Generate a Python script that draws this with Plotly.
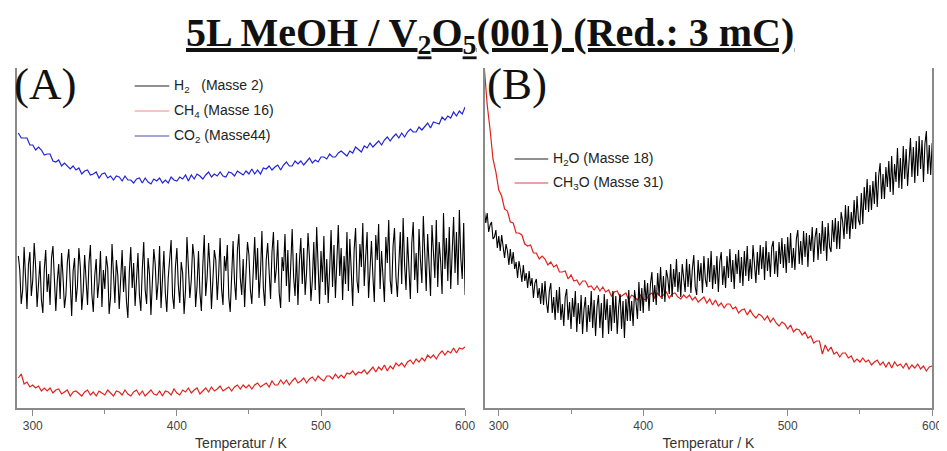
import plotly.graph_objects as go

# Temperature grids (K)
temperature = list(range(290, 601, 2))        # smoother signals
temperature_fine = list(range(290, 601, 1))   # noisy signals

# Panel A (arbitrary intensity units)
co2_masse44 = [
    275,270,270,270,263,263,258,261,258,253,
    254,254,247,246,248,242,245,242,239,242,
    238,240,234,237,238,233,234,236,230,234,
    235,230,232,228,232,231,227,232,228,228,
    225,229,230,225,230,226,224,229,227,230,
    225,228,225,231,228,227,231,229,233,227,
    233,229,234,232,229,233,236,231,234,232,
    236,232,231,236,235,232,237,235,233,237,
    234,239,234,238,234,240,239,242,238,241,
    243,238,243,246,242,242,247,244,247,243,
    247,250,245,248,246,251,251,249,254,251,
    251,255,257,254,252,257,255,261,258,256,
    262,260,265,261,264,267,263,268,271,267,
    271,274,270,275,271,276,279,276,276,281,
    278,282,285,280,286,285,284,291,288,292,
    290,296,292,297,294,301]

ch4_masse16 = [
    30,34,24,26,21,23,20,22,17,20,
    17,20,15,18,19,14,16,18,12,16,
    17,14,12,16,18,13,16,12,17,15,
    13,18,15,12,17,16,13,18,14,12,
    16,18,13,17,12,15,18,14,13,17,
    12,17,16,13,19,15,13,18,16,20,
    15,18,20,14,17,20,16,21,17,19,
    22,17,19,21,17,21,23,19,23,20,
    23,19,23,25,21,23,25,21,27,23,
    23,28,24,28,23,27,30,25,27,30,
    25,29,31,27,32,29,27,32,32,29,
    34,30,33,30,35,34,37,33,36,35,
    38,34,38,41,36,41,38,43,37,42,
    39,45,42,45,41,46,48,44,49,46,
    50,47,53,50,53,49,54,57,53,57,
    55,60,55,60,59,61]

h2_masse2 = [
    152,138,104,118,161,125,99,143,156,112,
    128,165,141,101,120,147,108,95,139,158,
    116,134,103,150,162,121,97,127,144,109,
    155,131,100,113,146,159,124,92,137,150,
    106,122,160,141,98,117,153,129,103,145,
    163,114,96,132,149,110,126,157,101,138,
    119,152,140,94,111,164,127,105,148,133,
    99,125,158,116,142,107,90,136,161,120,
    145,102,128,155,113,97,139,166,118,104,
    150,134,93,121,159,143,108,126,162,100,
    137,157,115,96,130,148,168,112,99,141,
    160,123,105,146,135,94,118,171,139,110,
    128,164,150,101,122,157,115,97,143,173,
    112,131,165,140,99,125,158,148,108,134,
    170,119,103,152,137,163,111,96,144,167,
    126,108,158,174,130,113,149,101,137,166,
    153,118,104,141,171,128,160,110,135,177,
    120,102,148,165,133,109,156,176,125,139,
    168,115,100,151,137,174,122,158,106,145,
    179,131,112,155,103,146,170,124,160,113,
    136,175,150,107,128,166,118,181,140,104,
    157,126,172,113,149,105,138,178,121,163,
    110,145,183,132,160,108,152,124,176,117,
    169,137,102,158,180,127,115,164,141,185,
    122,151,176,110,139,167,132,106,173,148,
    184,119,157,136,106,171,145,188,128,114,
    162,180,131,111,153,176,124,190,143,118,
    171,137,109,165,186,128,155,115,179,148,
    125,192,160,117,174,143,112,183,154,130,
    188,121,166,147,114,195,139,170,127,181,
    119,158,191,135,176,123,198,150,129,185,
    113]

# Panel B
h2o_masse18 = [
    198,185,195,176,183,186,169,171,178,160,
    172,157,173,158,150,164,157,143,159,144,
    156,139,146,130,147,138,126,143,127,135,
    120,137,122,130,110,125,129,110,120,104,
    125,103,127,106,95,117,125,95,111,88,
    118,95,121,88,104,82,111,119,88,106,
    79,110,91,117,76,105,84,113,74,99,
    111,76,103,86,117,80,108,72,101,113,
    80,105,70,114,88,109,74,103,77,117,
    85,112,74,101,114,79,107,70,109,87,
    118,87,107,82,118,106,89,126,97,120,
    95,128,106,125,97,124,136,106,123,103,
    135,112,141,109,132,106,138,130,114,144,
    111,139,121,149,116,136,111,144,132,116,
    149,121,144,115,139,153,121,113,148,127,
    145,115,152,129,121,150,126,157,119,143,
    124,152,116,146,156,123,142,120,152,130,
    159,126,148,119,154,134,158,125,151,122,
    157,132,162,127,149,129,163,147,125,156,
    133,163,139,161,128,167,137,156,131,161,
    167,134,157,131,166,144,170,140,164,135,
    171,145,175,140,160,138,169,178,144,167,
    143,177,151,175,141,173,157,181,146,171,
    180,148,175,154,187,157,181,147,185,161,
    156,188,166,190,159,187,159,196,187,169,
    203,174,202,169,196,179,208,179,212,188,
    183,215,184,221,198,229,196,223,198,227,
    204,236,201,232,245,209,234,209,241,221,
    247,216,252,213,244,226,260,220,250,219,
    262,229,259,222,253,270,231,261,225,267,
    232,272,239,268,226,264,277,234,263,233,
    265]

ch3o_masse31 = [
    340,303,278,249,236,218,212,199,197,186,
    185,175,175,173,164,162,163,155,155,149,
    152,149,143,146,141,143,136,136,137,129,
    133,127,128,123,127,127,121,122,118,122,
    117,121,116,118,112,116,117,111,113,115,
    108,113,111,108,113,109,108,113,115,110,
    115,111,113,116,110,114,115,111,109,113,
    110,113,108,111,106,109,111,105,109,103,
    108,102,105,100,104,104,99,101,95,98,
    99,93,98,93,90,94,92,88,92,86,
    90,85,82,86,84,79,83,76,79,78,
    73,76,70,72,65,67,67,54,63,57,
    61,54,56,51,55,55,50,52,46,49,
    46,50,46,48,43,46,48,43,46,41,
    46,40,46,42,44,40,45,39,43,40,
    44,39,42,37,41,42]

x_ticks = [300, 400, 500, 600]
x_minor = [350, 450, 550]

BLACK = "#000000"
RED = "#e0211d"
BLUE = "#2323d6"
AXIS = "#8a8a8a"

W, H = 947, 451
def px(x):
    return x / W
def py(y):
    return 1 - y / H

fig = go.Figure()
fig.add_trace(go.Scatter(x=temperature, y=co2_masse44, mode="lines",
                         line=dict(color=BLUE, width=1.2), xaxis="x", yaxis="y"))
fig.add_trace(go.Scatter(x=temperature_fine, y=h2_masse2, mode="lines",
                         line=dict(color=BLACK, width=1.1), xaxis="x", yaxis="y"))
fig.add_trace(go.Scatter(x=temperature, y=ch4_masse16, mode="lines",
                         line=dict(color=RED, width=1.2), xaxis="x", yaxis="y"))
fig.add_trace(go.Scatter(x=temperature, y=ch3o_masse31, mode="lines",
                         line=dict(color=RED, width=1.2), xaxis="x2", yaxis="y2"))
fig.add_trace(go.Scatter(x=temperature_fine, y=h2o_masse18, mode="lines",
                         line=dict(color=BLACK, width=1.1), xaxis="x2", yaxis="y2"))

xa = dict(showline=True, linecolor=AXIS, linewidth=1.5, ticks="outside",
          ticklen=6, tickwidth=1.2, tickcolor=AXIS, tickvals=x_ticks,
          minor=dict(tickvals=x_minor, ticks="outside", ticklen=4, tickcolor=AXIS),
          showgrid=False, zeroline=False,
          tickfont=dict(family="Liberation Sans, Arial", size=12, color="#444"),
          title=dict(text="Temperatur / K", standoff=6,
                     font=dict(family="Liberation Sans, Arial", size=14, color="#333")))
ya = dict(showline=True, linecolor=AXIS, linewidth=1.5, showticklabels=False,
          ticks="", showgrid=False, zeroline=False, range=[0, 340],
          domain=[py(400), py(60)])

fig.update_layout(
    width=W, height=H, margin=dict(l=0, r=0, t=0, b=0),
    paper_bgcolor="white", plot_bgcolor="white", showlegend=False,
    xaxis=dict(xa, domain=[px(9), px(462)], range=[289, 600], anchor="y"),
    yaxis=dict(ya, anchor="x"),
    xaxis2=dict(xa, domain=[px(482), px(934)], range=[290.4, 600], anchor="y2"),
    yaxis2=dict(ya, anchor="x2", mirror=True),
)

ann = []
ann.append(dict(x=px(487), y=py(27), xref="paper", yref="paper", showarrow=False,
                xanchor="center", yanchor="middle",
                text="<b><u>5L MeOH / V<sub>2</sub>O<sub>5</sub>(001) (Red.: 3 mC)</u></b>",
                font=dict(family="Liberation Serif, Times New Roman", size=40, color="#111")))
ann.append(dict(x=px(4), y=py(76), xref="paper", yref="paper", showarrow=False,
                xanchor="left", yanchor="middle", text="(A)",
                font=dict(family="Liberation Serif, Times New Roman", size=45, color="#111")))
ann.append(dict(x=px(482), y=py(76), xref="paper", yref="paper", showarrow=False,
                xanchor="left", yanchor="middle", text="(B)",
                font=dict(family="Liberation Serif, Times New Roman", size=45, color="#111")))

legA = [("H<sub>2</sub>   (Masse 2)", "#222222", 78),
        ("CH<sub>4</sub> (Masse 16)", "#f08a88", 103),
        ("CO<sub>2</sub> (Masse44)", "#4a4ab0", 128)]
legB = [("H<sub>2</sub>O (Masse 18)", "#222222", 151),
        ("CH<sub>3</sub>O (Masse 31)", "#d04a48", 175)]

shapes = []
for txt, col, yy in legA:
    shapes.append(dict(type="line", xref="paper", yref="paper",
                       x0=px(128), x1=px(163), y0=py(yy), y1=py(yy),
                       line=dict(color=col, width=1.2)))
    ann.append(dict(x=px(166), y=py(yy), xref="paper", yref="paper", showarrow=False,
                    xanchor="left", yanchor="middle", text=txt,
                    font=dict(family="Liberation Sans, Arial", size=14, color="#222")))
for txt, col, yy in legB:
    shapes.append(dict(type="line", xref="paper", yref="paper",
                       x0=px(512), x1=px(546), y0=py(yy), y1=py(yy),
                       line=dict(color=col, width=1.2)))
    ann.append(dict(x=px(549), y=py(yy), xref="paper", yref="paper", showarrow=False,
                    xanchor="left", yanchor="middle", text=txt,
                    font=dict(family="Liberation Sans, Arial", size=14, color="#222")))

fig.update_layout(annotations=ann, shapes=shapes)
fig.write_html("out.html")
